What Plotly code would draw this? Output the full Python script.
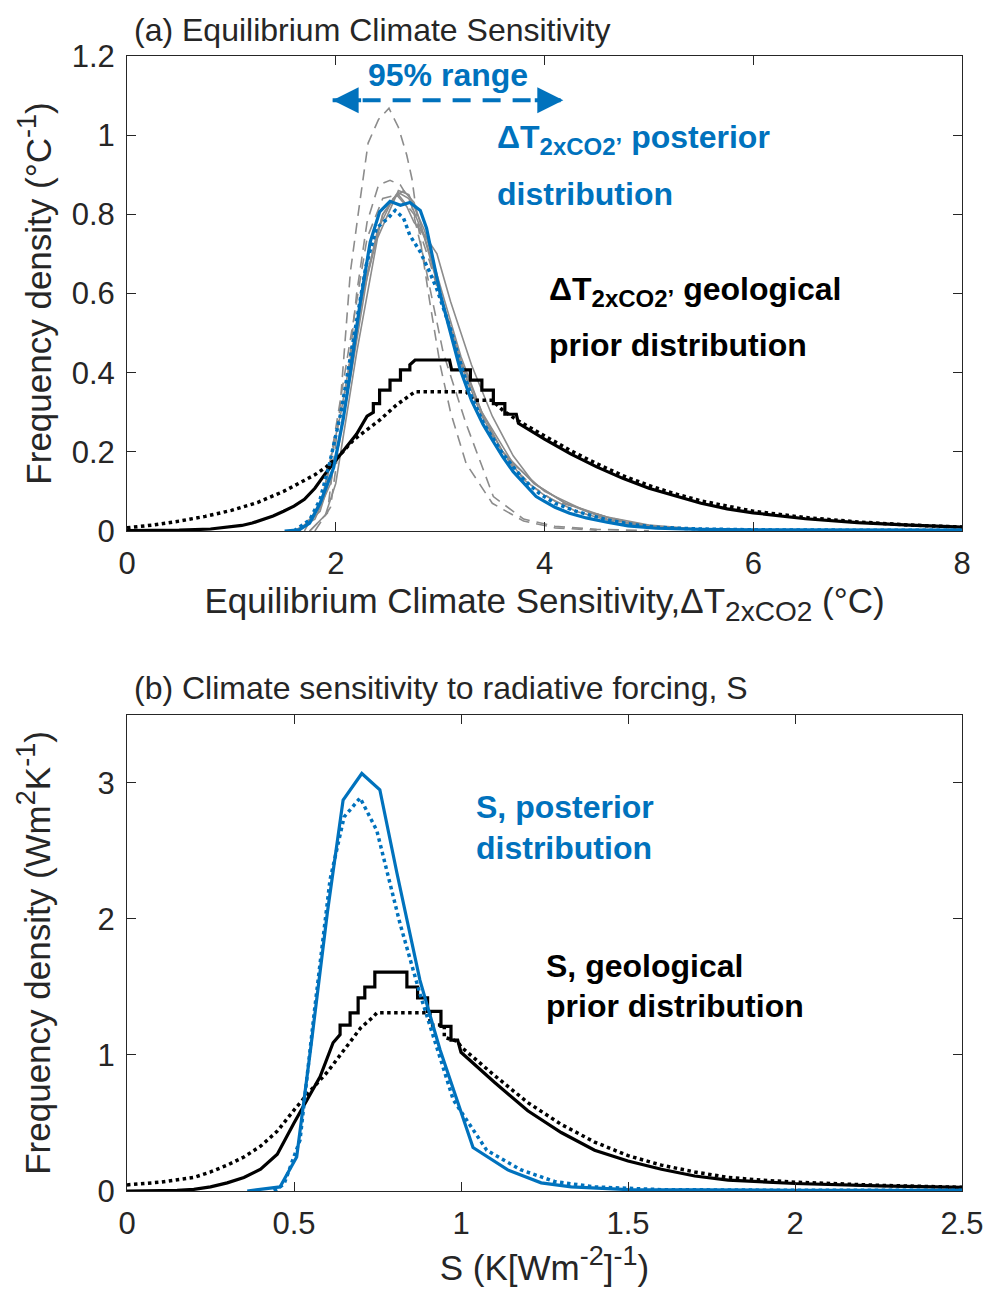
import plotly.graph_objects as go
from plotly.subplots import make_subplots

# ---------------- Panel (a): ECS (deg C) ----------------
prior_solid_a_x = [0, 0.5, 0.8, 1.0, 1.1, 1.2, 1.3, 1.4, 1.5, 1.6, 1.7, 1.8, 1.9, 2.0, 2.1, 2.2, 2.3, 2.36,
                   2.36, 2.42, 2.42, 2.52, 2.52, 2.62, 2.62, 2.71, 2.71, 2.76, 3.09, 3.11, 3.29, 3.29, 3.40,
                   3.40, 3.51, 3.51, 3.62, 3.62, 3.73, 3.75, 4.0, 4.25, 4.5, 4.75, 5.0, 5.25, 5.5, 5.75, 6.0,
                   6.5, 7.0, 7.5, 8.0]
prior_solid_a_y = [0.001, 0.002, 0.005, 0.01, 0.014, 0.02, 0.028, 0.038, 0.05, 0.063, 0.08, 0.108, 0.145,
                   0.178, 0.212, 0.245, 0.29, 0.30, 0.322, 0.322, 0.356, 0.356, 0.381, 0.381, 0.407, 0.407,
                   0.42, 0.432, 0.432, 0.407, 0.407, 0.381, 0.381, 0.356, 0.356, 0.322, 0.322, 0.295, 0.295,
                   0.272, 0.232, 0.195, 0.162, 0.133, 0.108, 0.088, 0.07, 0.056, 0.046, 0.031, 0.021, 0.015,
                   0.01]

prior_dot_a_x = [0, 0.25, 0.5, 0.75, 1.0, 1.25, 1.5, 1.66, 1.8, 1.91, 2.05, 2.17, 2.3, 2.42, 2.58, 2.76,
                 3.25, 3.32, 3.5, 3.6, 3.75, 4.0, 4.25, 4.5, 4.75, 5.0, 5.25, 5.5, 5.75, 6.0, 6.5, 7.0, 7.5,
                 8.0]
prior_dot_a_y = [0.008, 0.015, 0.025, 0.037, 0.052, 0.072, 0.1, 0.122, 0.142, 0.162, 0.195, 0.23, 0.257,
                 0.28, 0.318, 0.352, 0.352, 0.33, 0.33, 0.305, 0.278, 0.24, 0.203, 0.17, 0.14, 0.115, 0.094,
                 0.076, 0.062, 0.05, 0.034, 0.023, 0.015, 0.01]

post_solid_a_x = [1.51, 1.65, 1.75, 1.85, 1.98, 2.07, 2.14, 2.23, 2.33, 2.42, 2.52, 2.62, 2.71, 2.81, 2.87,
                  3.0, 3.1, 3.19, 3.3, 3.41, 3.5, 3.6, 3.7, 3.8, 3.92, 4.0, 4.1, 4.24, 4.4, 4.6, 4.8, 5.07,
                  5.5, 6, 7, 8]
post_solid_a_y = [0.0, 0.003, 0.02, 0.07, 0.16, 0.28, 0.40, 0.57, 0.73, 0.806, 0.833, 0.823, 0.83, 0.81,
                  0.765, 0.60, 0.50, 0.41, 0.33, 0.27, 0.23, 0.187, 0.15, 0.12, 0.087, 0.075, 0.06, 0.045,
                  0.033, 0.022, 0.013, 0.007, 0.004, 0.003, 0.002, 0.002]

post_dot_a_x = [1.6, 1.75, 1.85, 1.94, 2.05, 2.15, 2.29, 2.39, 2.5, 2.57, 2.65, 2.71, 2.81, 2.9, 2.97, 3.1,
                3.2, 3.3, 3.42, 3.6, 3.8, 3.95, 4.1, 4.3, 4.6, 4.85, 5.1, 5.5, 6, 7, 8]
post_dot_a_y = [0.0, 0.028, 0.08, 0.17, 0.30, 0.45, 0.67, 0.765, 0.79, 0.81, 0.79, 0.747, 0.705, 0.654,
                0.61, 0.51, 0.42, 0.34, 0.27, 0.195, 0.13, 0.095, 0.07, 0.05, 0.028, 0.016, 0.009, 0.005,
                0.003, 0.002, 0.002]

# individual (grey) sensitivity-test posteriors
grey_dash_1_x = [1.75, 1.92, 2.04, 2.14, 2.23, 2.31, 2.41, 2.51, 2.6, 2.68, 2.73, 2.81, 2.9, 3.0, 3.1, 3.25,
                 3.5, 3.8, 4.1, 4.5]
grey_dash_1_y = [0.0, 0.045, 0.31, 0.654, 0.83, 0.98, 1.04, 1.068, 1.02, 0.95, 0.89, 0.735, 0.58, 0.42, 0.3,
                 0.17, 0.07, 0.025, 0.008, 0.002]
grey_dash_2_x = [1.8, 1.95, 2.1, 2.2, 2.3, 2.41, 2.52, 2.62, 2.72, 2.85, 3.03, 3.25, 3.51, 3.8, 4.1, 4.5, 5.0]
grey_dash_2_y = [0.0, 0.06, 0.35, 0.6, 0.78, 0.874, 0.886, 0.874, 0.83, 0.68, 0.45, 0.27, 0.087, 0.03, 0.012,
                 0.004, 0.001]
grey_dash_3_x = [1.7, 1.9, 2.1, 2.3, 2.45, 2.6, 2.75, 2.9, 3.1, 3.3, 3.5, 3.7, 3.9, 4.1, 4.3, 4.6, 5.0, 5.5]
grey_dash_3_y = [0.0, 0.1, 0.42, 0.74, 0.84, 0.85, 0.8, 0.68, 0.5, 0.35, 0.24, 0.16, 0.11, 0.075, 0.06,
                 0.035, 0.012, 0.003]

grey_solid_1_x = [1.6, 1.8, 1.95, 2.1, 2.25, 2.4, 2.55, 2.65, 2.75, 2.9, 3.05, 3.2, 3.4, 3.6, 3.8, 4.0, 4.3,
                  4.7, 5.2, 6]
grey_solid_1_y = [0.0, 0.03, 0.12, 0.33, 0.58, 0.76, 0.84, 0.86, 0.83, 0.7, 0.55, 0.42, 0.29, 0.2, 0.13,
                  0.09, 0.05, 0.02, 0.006, 0.002]
grey_solid_2_x = [1.65, 1.85, 2.0, 2.15, 2.3, 2.45, 2.58, 2.68, 2.75, 2.87, 2.97, 3.1, 3.3, 3.5, 3.7, 3.9,
                  4.2, 4.6, 5.0, 5.6]
grey_solid_2_y = [0.0, 0.05, 0.18, 0.4, 0.64, 0.8, 0.85, 0.82, 0.78, 0.74, 0.70, 0.58, 0.42, 0.29, 0.19,
                  0.12, 0.07, 0.03, 0.012, 0.003]
grey_solid_3_x = [1.75, 1.9, 2.0, 2.2, 2.4, 2.6, 2.7, 2.85, 3.0, 3.2, 3.4, 3.6, 3.9, 4.2, 4.6, 5.0, 5.5]
grey_solid_3_y = [0.0, 0.04, 0.12, 0.45, 0.74, 0.86, 0.85, 0.76, 0.62, 0.44, 0.3, 0.2, 0.12, 0.07, 0.035,
                  0.015, 0.004]
grey_solid_4_x = [1.65, 1.85, 2.05, 2.25, 2.45, 2.6, 2.7, 2.85, 3.0, 3.2, 3.4, 3.7, 4.0, 4.4, 4.8, 5.3]
grey_solid_4_y = [0.0, 0.06, 0.3, 0.6, 0.8, 0.855, 0.84, 0.74, 0.6, 0.43, 0.3, 0.17, 0.1, 0.05, 0.02, 0.005]

range95_x = [1.97, 4.18]     # 95% range of posterior ECS (deg C)
range95_y = 1.088

# ---------------- Panel (b): S (K [W m-2]-1) ----------------
prior_solid_b_x = [0, 0.1, 0.15, 0.2, 0.25, 0.3, 0.35, 0.4, 0.45, 0.5, 0.55, 0.578, 0.617, 0.638, 0.638,
                   0.668, 0.668, 0.692, 0.692, 0.712, 0.712, 0.742, 0.742, 0.838, 0.838, 0.87, 0.87, 0.90,
                   0.90, 0.94, 0.94, 0.97, 0.97, 0.99, 1.0, 1.1, 1.2, 1.3, 1.4, 1.5, 1.6, 1.7, 1.8, 1.9, 2.0,
                   2.25, 2.5]
prior_solid_b_y = [0.0, 0.002, 0.005, 0.012, 0.03, 0.06, 0.1, 0.16, 0.27, 0.5, 0.72, 0.84, 1.09, 1.15,
                   1.22, 1.22, 1.31, 1.31, 1.42, 1.42, 1.50, 1.50, 1.61, 1.61, 1.50, 1.50, 1.42, 1.42, 1.32,
                   1.32, 1.21, 1.21, 1.11, 1.11, 1.02, 0.80, 0.59, 0.43, 0.30, 0.22, 0.16, 0.11, 0.08, 0.065,
                   0.055, 0.038, 0.027]

prior_dot_b_x = [0, 0.1, 0.2, 0.25, 0.3, 0.35, 0.4, 0.45, 0.5, 0.55, 0.6, 0.65, 0.677, 0.7, 0.737, 0.748,
                 0.907, 0.907, 0.95, 0.95, 0.99, 1.0, 1.1, 1.2, 1.3, 1.4, 1.5, 1.6, 1.7, 1.8, 1.9, 2.0, 2.25,
                 2.5]
prior_dot_b_y = [0.045, 0.065, 0.1, 0.14, 0.19, 0.25, 0.33, 0.44, 0.595, 0.74, 0.875, 1.04, 1.13, 1.2, 1.28,
                 1.31, 1.31, 1.22, 1.22, 1.13, 1.10, 1.06, 0.85, 0.65, 0.49, 0.36, 0.26, 0.19, 0.14, 0.10,
                 0.08, 0.065, 0.042, 0.027]

post_solid_b_x = [0.36, 0.458, 0.508, 0.55, 0.6, 0.647, 0.703, 0.757, 0.808, 0.877, 0.937, 1.036, 1.14,
                  1.24, 1.33, 1.5, 2.0, 2.5]
post_solid_b_y = [0.0, 0.03, 0.25, 1.05, 2.05, 2.875, 3.07, 2.95, 2.34, 1.55, 1.04, 0.32, 0.155, 0.06, 0.03,
                  0.01, 0.005, 0.005]

post_dot_b_x = [0.44, 0.47, 0.518, 0.56, 0.608, 0.65, 0.698, 0.748, 0.817, 0.877, 0.977, 1.077, 1.18, 1.28,
                1.4, 1.6, 2.0, 2.5]
post_dot_b_y = [0.0, 0.05, 0.375, 1.3, 2.29, 2.75, 2.89, 2.65, 1.97, 1.45, 0.67, 0.30, 0.155, 0.07, 0.03,
                0.01, 0.005, 0.005]

BLUE = "#0072BD"
GREY = "#8c8c8c"
AX = "#262626"
FONT = "Liberation Sans, Arial, Helvetica, sans-serif"

fig = make_subplots(rows=2, cols=1, vertical_spacing=0.1)

def add(x, y, color, width, dash, row):
    fig.add_trace(go.Scatter(x=x, y=y, mode="lines", line=dict(color=color, width=width, dash=dash),
                             showlegend=False, hoverinfo="skip"), row=row, col=1)

for gx, gy in [(grey_dash_1_x, grey_dash_1_y), (grey_dash_2_x, grey_dash_2_y), (grey_dash_3_x, grey_dash_3_y)]:
    add(gx, gy, GREY, 1.6, "11px,7px", 1)
for gx, gy in [(grey_solid_1_x, grey_solid_1_y), (grey_solid_2_x, grey_solid_2_y),
               (grey_solid_3_x, grey_solid_3_y), (grey_solid_4_x, grey_solid_4_y)]:
    add(gx, gy, GREY, 1.6, "solid", 1)
add(prior_dot_a_x, prior_dot_a_y, "black", 3.5, "dot", 1)
add(prior_solid_a_x, prior_solid_a_y, "black", 3.2, "solid", 1)
add(post_dot_a_x, post_dot_a_y, BLUE, 3.5, "dot", 1)
add(post_solid_a_x, post_solid_a_y, BLUE, 3.2, "solid", 1)
# 95% range dashed bar
add(range95_x, [range95_y, range95_y], BLUE, 4, "18px,12px", 1)

add(prior_dot_b_x, prior_dot_b_y, "black", 3.5, "dot", 2)
add(prior_solid_b_x, prior_solid_b_y, "black", 3.2, "solid", 2)
add(post_dot_b_x, post_dot_b_y, BLUE, 3.5, "dot", 2)
add(post_solid_b_x, post_solid_b_y, BLUE, 3.2, "solid", 2)

axis_common = dict(showline=True, linecolor=AX, linewidth=1, mirror="ticks", ticks="inside", ticklen=9,
                   tickcolor=AX, tickwidth=1, showgrid=False, zeroline=False, ticklabelstandoff=5,
                   tickfont=dict(family=FONT, size=31, color=AX), automargin=False)

fig.update_xaxes(**axis_common)
fig.update_yaxes(**axis_common)

SUP = "<sup><span style='font-size:27px'>{}</span></sup>"
SUB = "<sub><span style='font-size:28px'>{}</span></sub>"
TF = dict(size=35, color=AX, family=FONT)

fig.update_layout(
    width=986, height=1291,
    margin=dict(l=127, r=24, t=56, b=100),
    plot_bgcolor="white", paper_bgcolor="white",
    font=dict(family=FONT, color=AX),
    xaxis=dict(domain=[0, 1], range=[0, 8], dtick=2, tick0=0,
               title=dict(text="Equilibrium Climate Sensitivity,ΔT" + SUB.format("2xCO2") + " (°C)",
                          font=TF, standoff=6)),
    yaxis=dict(domain=[0.5815, 1], range=[0, 1.2], dtick=0.2, tick0=0,
               title=dict(text="Frequency density (°C" + SUP.format("-1") + ")", font=TF, standoff=9)),
    xaxis2=dict(domain=[0, 1], range=[0, 2.5], dtick=0.5, tick0=0,
                title=dict(text="S (K[Wm" + SUP.format("-2") + "]" + SUP.format("-1") + ")", font=TF,
                           standoff=14)),
    yaxis2=dict(domain=[0, 0.4194], range=[0, 3.5], dtick=1, tick0=0,
                title=dict(text="Frequency density (Wm" + SUP.format("2") + "K" + SUP.format("-1") + ")",
                           font=TF, standoff=36)),
)

ann = []
# panel titles
ann.append(dict(xref="paper", yref="paper", x=(132 - 127) / 835, y=(1191 - 30) / 1135, xanchor="left",
                yanchor="middle", showarrow=False, text="(a) Equilibrium Climate Sensitivity",
                font=dict(size=32, color=AX, family=FONT)))
ann.append(dict(xref="paper", yref="paper", x=(132 - 127) / 835, y=(1191 - 688) / 1135, xanchor="left",
                yanchor="middle", showarrow=False, text="(b) Climate sensitivity to radiative forcing, S",
                font=dict(size=32, color=AX, family=FONT)))

bold_blue = dict(size=32, color=BLUE, family=FONT)
bold_black = dict(size=32, color="black", family=FONT)
BSUB = "<sub><span style='font-size:24px'>{}</span></sub>"
# 95% range
ann.append(dict(xref="x", yref="y", x=sum(range95_x) / 2, y=1.152, showarrow=False, text="<b>95% range</b>",
                font=bold_blue, xanchor="center", yanchor="middle"))
for tip, off in [(range95_x[0], 30), (range95_x[1], -30)]:
    ann.append(dict(xref="x", yref="y", x=tip, y=range95_y, ax=off, ay=0, text="", showarrow=True,
                    arrowhead=2, arrowsize=1.3, arrowwidth=4, arrowcolor=BLUE))

ann.append(dict(xref="x", yref="y", x=3.526, y=(531 - 139) / 396, xanchor="left", yanchor="middle",
                showarrow=False, text="<b>ΔT" + BSUB.format("2xCO2’") + " posterior</b>", font=bold_blue))
ann.append(dict(xref="x", yref="y", x=3.526, y=(531 - 194) / 396, xanchor="left", yanchor="middle",
                showarrow=False, text="<b>distribution</b>", font=bold_blue))
ann.append(dict(xref="x", yref="y", x=4.02, y=(531 - 291) / 396, xanchor="left", yanchor="middle",
                showarrow=False, text="<b>ΔT" + BSUB.format("2xCO2’") + " geological</b>", font=bold_black))
ann.append(dict(xref="x", yref="y", x=4.02, y=(531 - 345) / 396, xanchor="left", yanchor="middle",
                showarrow=False, text="<b>prior distribution</b>", font=bold_black))

ann.append(dict(xref="x2", yref="y2", x=1.039, y=(1191 - 807) / 136, xanchor="left", yanchor="middle",
                showarrow=False, text="<b>S, posterior</b>", font=bold_blue))
ann.append(dict(xref="x2", yref="y2", x=1.039, y=(1191 - 848) / 136, xanchor="left", yanchor="middle",
                showarrow=False, text="<b>distribution</b>", font=bold_blue))
ann.append(dict(xref="x2", yref="y2", x=1.249, y=(1191 - 966) / 136, xanchor="left", yanchor="middle",
                showarrow=False, text="<b>S, geological</b>", font=bold_black))
ann.append(dict(xref="x2", yref="y2", x=1.249, y=(1191 - 1006) / 136, xanchor="left", yanchor="middle",
                showarrow=False, text="<b>prior distribution</b>", font=bold_black))

fig.update_layout(annotations=ann)
fig.write_html("out.html")
